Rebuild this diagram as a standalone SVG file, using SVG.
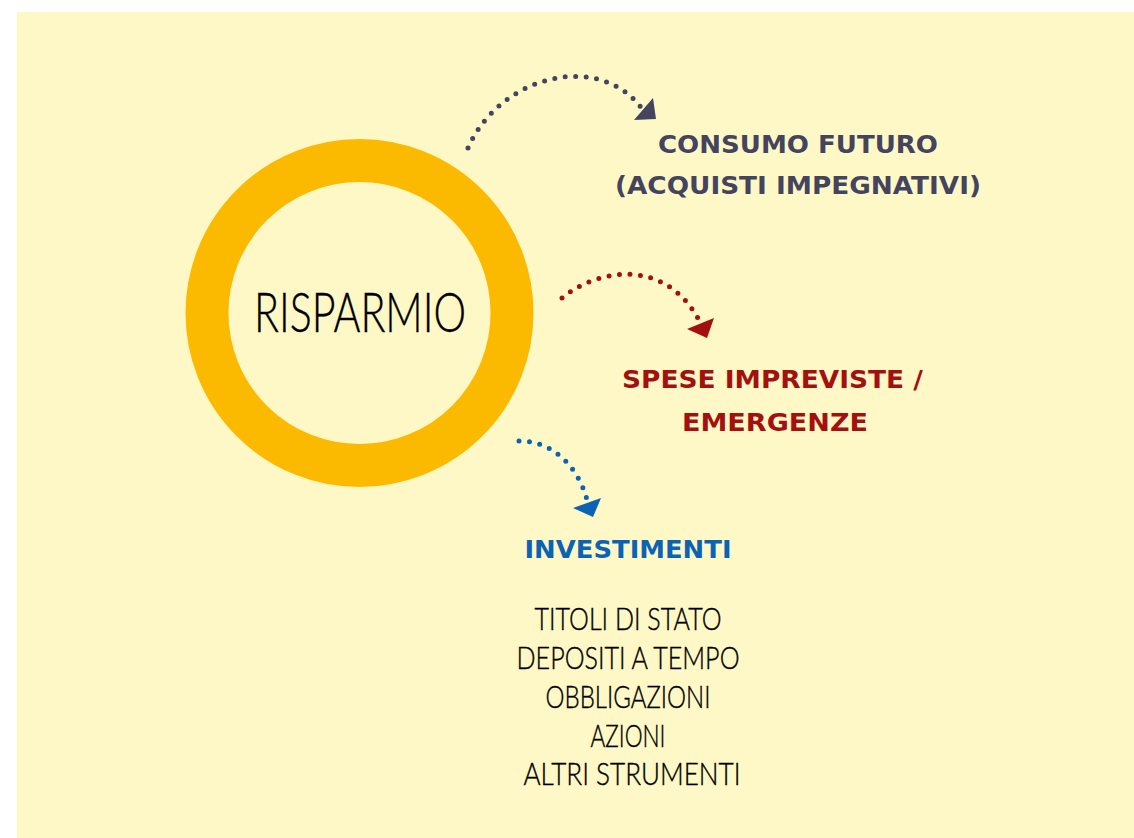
<svg xmlns="http://www.w3.org/2000/svg" width="1134" height="838" viewBox="0 0 1134 838">
<style>
.bold{font-family:"DejaVu Sans","Liberation Sans",sans-serif;font-weight:bold;font-size:25px;text-anchor:middle}
.hand{font-family:Lato,"Open Sans",sans-serif;font-weight:300;fill:#000;stroke:#000;stroke-width:0.4;text-anchor:middle}
.dot{fill:none;stroke-width:5;stroke-linecap:round;stroke-dasharray:0 10.5}
</style>
<rect x="17" y="12" width="1117" height="826" fill="#FEF8C7"/>
<g id="risparmio">
<circle cx="359.5" cy="313" r="152.5" fill="#FEF8C7" stroke="#FBBA00" stroke-width="43"/>
<text class="hand" x="360" y="332" font-size="55" textLength="212" lengthAdjust="spacingAndGlyphs">RISPARMIO</text>
</g>
<g id="connectors">
<path class="dot" stroke="#44445E" d="M468,148 C500,75 600,50 643,110"/>
<polygon fill="#44445E" points="634,120 653,98 656,119"/>
<path class="dot" stroke="#A31010" d="M562,298 C595,270 665,255 700,322"/>
<polygon fill="#A31010" points="687,329 714,318 707,338"/>
<path class="dot" stroke="#0B63B5" d="M519,441 C550,440 578,465 587,500"/>
<polygon fill="#0B63B5" points="573,508 601,498 593,517"/>
</g>
<g id="consumo">
<text class="bold" fill="#44445E" x="798" y="153" textLength="280" lengthAdjust="spacingAndGlyphs">CONSUMO FUTURO</text>
<text class="bold" fill="#44445E" x="798" y="194" textLength="366" lengthAdjust="spacingAndGlyphs">(ACQUISTI IMPEGNATIVI)</text>
</g>
<g id="spese">
<text class="bold" fill="#A31010" x="772.5" y="388" textLength="301" lengthAdjust="spacingAndGlyphs">SPESE IMPREVISTE /</text>
<text class="bold" fill="#A31010" x="775" y="431" textLength="186" lengthAdjust="spacingAndGlyphs">EMERGENZE</text>
</g>
<g id="investimenti">
<text class="bold" fill="#0B63B5" x="628" y="558" font-size="22" textLength="207" lengthAdjust="spacingAndGlyphs">INVESTIMENTI</text>
<text class="hand" font-size="32" x="628" y="630" textLength="187" lengthAdjust="spacingAndGlyphs">TITOLI DI STATO</text>
<text class="hand" font-size="32" x="628" y="669" textLength="223" lengthAdjust="spacingAndGlyphs">DEPOSITI A TEMPO</text>
<text class="hand" font-size="32" x="628" y="708" textLength="165" lengthAdjust="spacingAndGlyphs">OBBLIGAZIONI</text>
<text class="hand" font-size="32" x="628" y="747" textLength="75" lengthAdjust="spacingAndGlyphs">AZIONI</text>
<text class="hand" font-size="32" x="632" y="785" textLength="217" lengthAdjust="spacingAndGlyphs">ALTRI STRUMENTI</text>
</g>
</svg>
